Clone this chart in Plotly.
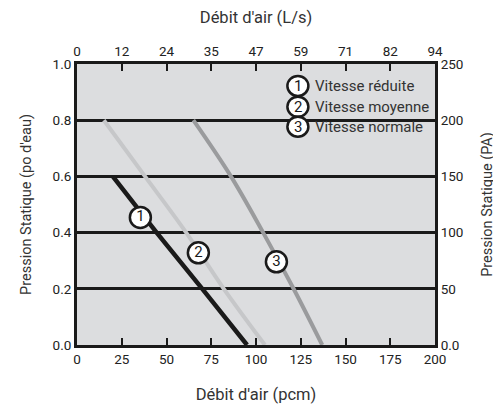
import plotly.graph_objects as go

# Débit en pcm (axe du bas) et pression en po d'eau (axe de gauche)
reduite_pcm = [20, 44.5, 70, 95]
reduite_po = [0.6, 0.4, 0.2, 0.0]

moyenne_pcm = [15, 38, 61, 82, 105]
moyenne_po = [0.8, 0.6, 0.4, 0.2, 0.0]

normale_pcm = [65, 86, 104, 121, 137]
normale_po = [0.8, 0.6, 0.4, 0.2, 0.0]

# repères numérotés posés sur les courbes
repere_pcm = [35.4, 67.8, 111.4]
repere_po = [0.454, 0.328, 0.296]
repere_txt = ["1", "2", "3"]

legende_txt = ["Vitesse réduite", "Vitesse moyenne", "Vitesse normale"]

pcm_ticks = [0, 25, 50, 75, 100, 125, 150, 175, 200]
ls_ticks = ["0", "12", "24", "35", "47", "59", "71", "82", "94"]
po_ticks = [0.0, 0.2, 0.4, 0.6, 0.8, 1.0]
pa_ticks = [0, 50, 100, 150, 200, 250]
pa_labels = ["0.0", "50", "100", "150", "200", "250"]

NOIR = "#1a1a1a"
FONT = "Roboto"

fig = go.Figure()

fig.add_trace(go.Scatter(x=reduite_pcm, y=reduite_po, mode="lines",
                         line=dict(color=NOIR, width=4.5)))
fig.add_trace(go.Scatter(x=moyenne_pcm, y=moyenne_po, mode="lines",
                         line=dict(color="#c6c7c9", width=4, shape="spline")))
fig.add_trace(go.Scatter(x=normale_pcm, y=normale_po, mode="lines",
                         line=dict(color="#9a9b9d", width=4, shape="spline")))

fig.add_trace(go.Scatter(
    x=repere_pcm, y=repere_po, mode="markers+text", text=repere_txt,
    textposition="middle center", textfont=dict(family=FONT, size=15, color=NOIR),
    marker=dict(size=21, color="white", line=dict(color=NOIR, width=2.5)),
))

# axe fantôme pour l'échelle en PA à droite
fig.add_trace(go.Scatter(x=[None], y=[None], yaxis="y2", xaxis="x2"))

# fond de la légende qui masque la ligne de grille
fig.add_shape(type="rect", xref="paper", yref="paper", x0=0.567, x1=0.986,
              y0=0.745, y1=0.97, fillcolor="#dcdddf", line=dict(width=0),
              layer="between")

leg_y = [0.922, 0.848, 0.777]
for txt, num, yy in zip(legende_txt, repere_txt, leg_y):
    fig.add_shape(type="circle", xref="paper", yref="paper",
                  xsizemode="pixel", ysizemode="pixel",
                  xanchor=0.617, yanchor=yy, x0=-10.5, x1=10.5, y0=-10, y1=10,
                  fillcolor="white", line=dict(color=NOIR, width=2.5),
                  layer="above")
    fig.add_annotation(x=0.617, y=yy, xref="paper", yref="paper", text=num,
                       xanchor="center", yanchor="middle", showarrow=False,
                       font=dict(family=FONT, size=15, color=NOIR))
    fig.add_annotation(x=0.659, y=yy, xref="paper", yref="paper", text=txt,
                       xanchor="left", yanchor="middle", showarrow=False,
                       font=dict(family=FONT, size=15, color="#333"))

axe = dict(showline=True, linecolor=NOIR, linewidth=3, zeroline=False,
           automargin=False,
           tickfont=dict(family=FONT, size=13.5, color="#222"))

titre_h = dict(family=FONT, size=16.5, color="#333")
titre_v = dict(family=FONT, size=14.5, color="#333")

# la page ajoute 8 px de marge au corps : la figure est réduite d'autant
fig.update_layout(
    width=493, height=396,
    margin=dict(l=69, r=66, t=56, b=59),
    plot_bgcolor="#dcdddf", paper_bgcolor="white",
    showlegend=False,
    xaxis=dict(range=[0, 200], tickvals=pcm_ticks, ticks="inside", ticklen=7,
               tickwidth=2, tickcolor=NOIR, showgrid=False,
               title=dict(text="Débit d'air (pcm)", standoff=24, font=titre_h), **axe),
    xaxis2=dict(range=[0, 200], tickvals=pcm_ticks, ticktext=ls_ticks,
                overlaying="x", side="top", ticks="inside", ticklen=7,
                tickwidth=2, tickcolor=NOIR, showgrid=False,
                title=dict(text="Débit d'air (L/s)", standoff=19, font=titre_h), **axe),
    yaxis=dict(range=[0, 1], tickvals=po_ticks, tickformat=".1f", ticks="",
               showgrid=True, gridcolor=NOIR, gridwidth=2.5,
               title=dict(text="Pression Statique (po d'eau)", standoff=18, font=titre_v), **axe),
    yaxis2=dict(range=[0, 250], tickvals=pa_ticks, ticktext=pa_labels,
                overlaying="y", side="right", ticks="inside", ticklen=7,
                tickwidth=2, tickcolor=NOIR, showgrid=False,
                title=dict(text="Pression Statique (PA)", standoff=20, font=titre_v), **axe),
)

fig.write_html("out.html")
